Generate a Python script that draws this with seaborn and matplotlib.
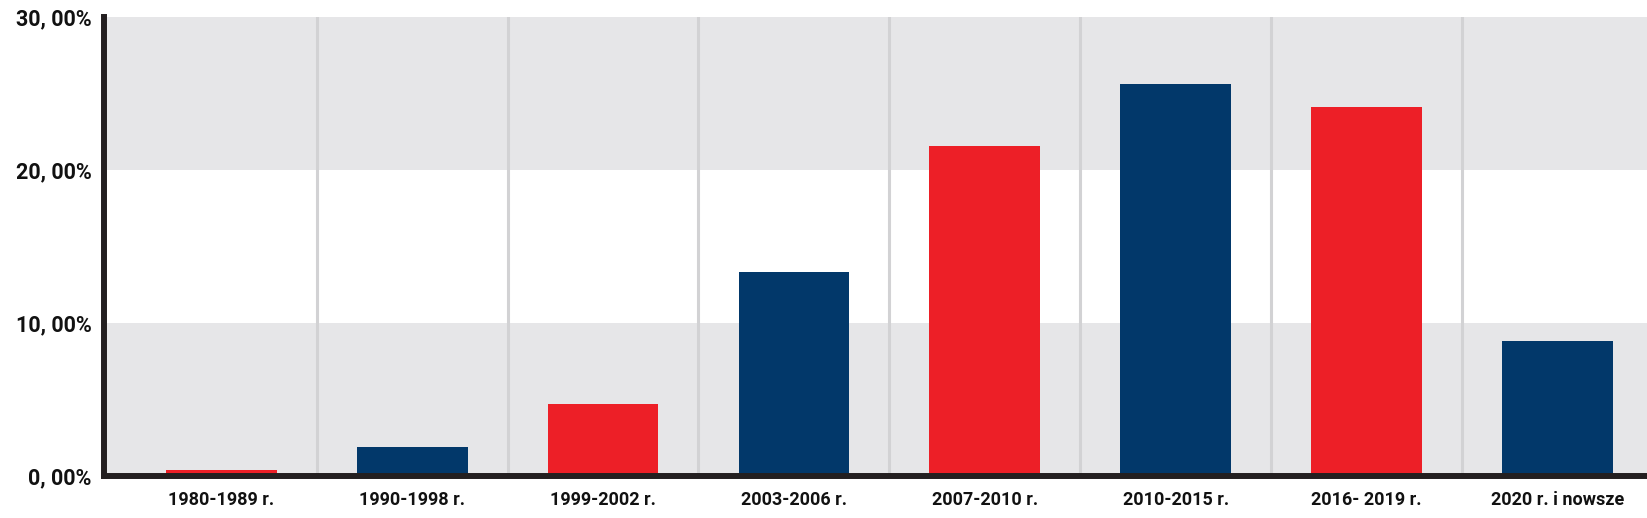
import numpy as np
import pandas as pd
import matplotlib
matplotlib.use("Agg")
import matplotlib.pyplot as plt
import seaborn as sns

# data
periods = ['1980-1989 r.', '1990-1998 r.', '1999-2002 r.', '2003-2006 r.',
           '2007-2010 r.', '2010-2015 r.', '2016- 2019 r.', '2020 r. i nowsze']
shares = [0.4, 1.9, 4.7, 13.35, 21.6, 25.6, 24.1, 8.8]
bar_colors = ['#ed1f27', '#02386a', '#ed1f27', '#02386a',
              '#ed1f27', '#02386a', '#ed1f27', '#02386a']
y_ticks = [0, 10, 20, 30]
y_labels = ['0, 00%', '10, 00%', '20, 00%', '30, 00%']

df = pd.DataFrame({'period': periods, 'share': shares})

sns.set_style('white')
plt.rcParams['font.family'] = ['Roboto', 'DejaVu Sans']

fig = plt.figure(figsize=(16.47, 5.18), dpi=100)
ax = fig.add_axes([0.0631, 0.0811, 0.9369, 0.8861])

# alternating background bands
ax.axhspan(0, 10, color='#e6e6e8', zorder=0, lw=0)
ax.axhspan(20, 30, color='#e6e6e8', zorder=0, lw=0)

# vertical separators between categories
for b in np.arange(0.5, len(periods) - 1, 1):
    ax.axvline(b, color='#d2d2d4', lw=2.2, zorder=0.5)

sns.barplot(data=df, x='period', y='share', hue='period',
            palette=bar_colors, width=0.58, legend=False,
            saturation=1, linewidth=0, ax=ax, zorder=2)

ax.set_xlim(-0.615, len(periods) - 0.53)
ax.set_ylim(0, 30)
ax.set_yticks(y_ticks)
ax.set_yticklabels(y_labels)
ax.set_xlabel('')
ax.set_ylabel('')

for s in ['top', 'right']:
    ax.spines[s].set_visible(False)
for s in ['left', 'bottom']:
    ax.spines[s].set_linewidth(4.3)
    ax.spines[s].set_color('#231f20')
    ax.spines[s].set_zorder(3)

ax.tick_params(axis='y', direction='in', length=9.5, width=4.3,
               color='#231f20', pad=9, labelsize=15.5)
ax.tick_params(axis='x', length=0, pad=11, labelsize=13)
for lab in ax.get_xticklabels() + ax.get_yticklabels():
    lab.set_fontweight('bold')
    lab.set_color('#111111')

fig.savefig('out.png', dpi=100)
